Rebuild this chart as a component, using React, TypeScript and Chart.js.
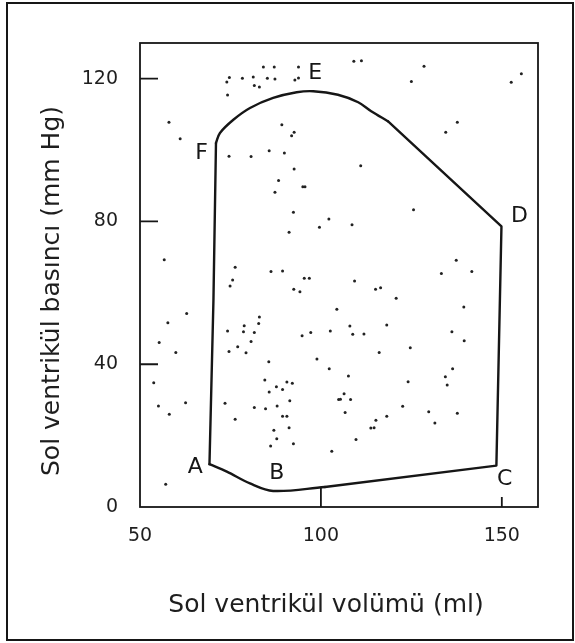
import React, { useEffect, useRef } from "react";
import { Chart, registerables } from "chart.js";

Chart.register(...registerables);

const xTitle = "Sol ventrikül volümü (ml)";
const yTitle = "Sol ventrikül basıncı (mm Hg)";

const xTicks = [50, 100, 150];
const yTicks = [0, 40, 80, 120];
const yInnerTicks = [40, 80, 120];
const xInnerTicks = [150];

// pressure-volume loop A -> B -> C -> D -> E -> F -> A
const loopVolume = [69.2, 74.0, 80.4, 86.8, 101.1, 148.5, 149.9, 118.5, 113.9, 110.3, 104.7, 97.9, 93.3, 86.8, 80.4, 75.8, 72.1, 71.0, 70.3, 69.2];
const loopPressure = [12.0, 9.9, 6.6, 4.5, 5.6, 11.6, 78.6, 108.1, 110.9, 113.4, 115.5, 116.5, 116.2, 114.6, 111.8, 108.5, 104.8, 102.0, 58.0, 12.0];
// which stretches of the loop are curved (start index, end index, tension)
const loopPieces: [number, number, number][] = [
  [0, 4, 0.35],
  [4, 7, 0],
  [7, 17, 0.35],
  [17, 19, 0],
];

// small marker line at 100 ml
const markerVolume = [100, 100];
const markerPressure = [0, 5.6];

const letters = ["A", "B", "C", "D", "E", "F"];
const letterVolume = [65.3, 87.8, 150.8, 154.9, 98.4, 67.0];
const letterPressure = [11.0, 9.4, 7.8, 81.4, 121.6, 99.2];

// scattered specks
const dotVolume = [
  84.1, 87.1, 93.8, 74.7, 78.3, 81.3, 85.2, 87.3, 74.0, 81.6, 83.0, 92.8, 93.8, 74.2, 58.0, 61.1, 89.2, 92.6, 91.9, 85.7,
  89.9, 74.6, 80.7, 92.6, 88.3, 87.3, 95.0, 95.6, 92.4, 102.2, 99.6, 91.2, 56.7, 76.3, 86.2, 89.4,
  109.1, 111.2, 128.5, 155.4, 125.0, 152.6, 137.7, 134.5, 111.0, 125.6, 108.6, 137.4, 133.3, 141.7,
  75.6, 74.9, 95.4, 96.8, 92.5, 94.2, 104.4, 62.9, 57.7, 83.0, 82.8, 78.8, 74.2, 78.6, 81.6, 94.8, 97.2, 102.6, 55.3, 59.9,
  77.0, 80.7, 74.6, 79.3, 85.6, 98.9, 102.3, 53.8, 84.5, 90.6, 92.1, 87.7, 85.7, 89.4, 104.9, 62.6, 55.1, 73.5, 58.1, 81.6,
  84.7, 87.9, 91.4, 76.3, 89.4, 90.6, 87.0, 91.2, 87.8, 86.1, 92.4, 103.0, 57.1,
  109.3, 115.1, 116.5, 120.8, 139.5, 108.0, 108.8, 111.9, 118.2, 136.2, 139.6, 116.1, 124.7, 107.6, 136.4, 134.4, 134.9, 124.1,
  106.4, 105.4, 108.2, 106.7, 122.6, 129.8, 137.7, 115.2, 118.2, 131.5, 114.7, 113.8, 109.7,
];
const dotPressure = [
  123.3, 123.3, 123.3, 120.3, 120.1, 120.5, 120.1, 119.9, 119.1, 118.1, 117.7, 119.6, 120.2, 115.4, 107.8, 103.2, 107.1, 105.0, 104.0, 99.8,
  99.2, 98.3, 98.2, 94.7, 91.5, 88.2, 89.7, 89.7, 82.6, 80.7, 78.4, 77.0, 69.3, 67.2, 66.0, 66.1,
  124.9, 125.0, 123.5, 121.4, 119.2, 119.0, 107.8, 105.0, 95.6, 83.3, 79.1, 69.1, 65.4, 66.0,
  63.6, 61.9, 64.1, 64.1, 61.0, 60.3, 55.4, 54.2, 51.6, 53.2, 51.4, 50.8, 49.3, 49.1, 48.9, 48.0, 48.9, 49.3, 46.1, 43.3,
  44.9, 46.4, 43.6, 43.2, 40.7, 41.5, 38.7, 34.8, 35.6, 35.0, 34.7, 33.7, 32.2, 32.9, 30.1, 29.2, 28.3, 29.1, 26.0, 27.9,
  27.5, 28.3, 29.8, 24.6, 25.4, 25.4, 21.5, 22.2, 19.1, 17.1, 17.7, 15.6, 6.4,
  63.3, 61.0, 61.4, 58.5, 56.0, 50.7, 48.4, 48.5, 51.0, 49.1, 46.6, 43.3, 44.6, 36.7, 38.7, 36.5, 34.2, 35.1,
  31.7, 30.2, 30.1, 26.5, 28.2, 26.7, 26.3, 24.3, 25.4, 23.5, 22.2, 22.1, 18.9,
];

const INK = "#161616";
const FONT = '"DejaVu Sans", "Open Sans", sans-serif';

const decor = {
  id: "decor",
  afterDraw(chart: any) {
    const { ctx, chartArea: a } = chart;
    const x = chart.scales.x;
    const y = chart.scales.y;
    ctx.save();
    ctx.strokeStyle = INK;
    ctx.lineWidth = 1.8;
    ctx.strokeRect(a.left, a.top, a.right - a.left, a.bottom - a.top);
    ctx.beginPath();
    yInnerTicks.forEach((v) => {
      const py = y.getPixelForValue(v);
      ctx.moveTo(a.left, py);
      ctx.lineTo(a.left + 18, py);
    });
    xInnerTicks.forEach((v) => {
      const px = x.getPixelForValue(v);
      ctx.moveTo(px, a.bottom);
      ctx.lineTo(px, a.bottom - 10);
    });
    ctx.stroke();

    ctx.fillStyle = INK;
    ctx.textAlign = "center";
    ctx.textBaseline = "middle";
    ctx.font = `22px ${FONT}`;
    letters.forEach((t, i) => {
      ctx.fillText(t, x.getPixelForValue(letterVolume[i]), y.getPixelForValue(letterPressure[i]));
    });

    ctx.font = `25px ${FONT}`;
    ctx.fillStyle = "#1e1e1e";
    ctx.fillText(xTitle, (a.left + a.right) / 2 - 13, 605);
    ctx.save();
    ctx.translate(52, (a.top + a.bottom) / 2 + 16);
    ctx.rotate(-Math.PI / 2);
    ctx.fillText(yTitle, 0, 0);
    ctx.restore();

    ctx.lineWidth = 2;
    ctx.strokeStyle = INK;
    ctx.strokeRect(7, 3, 566, 637);
    ctx.restore();
  },
};

export default function App() {
  const ref = useRef<HTMLCanvasElement | null>(null);

  useEffect(() => {
    document.body.style.margin = "0";
    const canvas = ref.current;
    if (!canvas) return;
    const loopSets = loopPieces.map(([s, e, t], k) => ({
      label: "loop" + k,
      data: loopVolume.slice(s, e + 1).map((v, i) => ({ x: v, y: loopPressure[s + i] })),
      showLine: true,
      borderColor: INK,
      borderWidth: 2.4,
      borderCapStyle: "round" as const,
      borderJoinStyle: "round" as const,
      pointRadius: 0,
      tension: t,
      fill: false,
    }));
    const chart = new Chart(canvas, {
      type: "scatter",
      data: {
        datasets: [
          {
            label: "dots",
            data: dotVolume.map((v, i) => ({ x: v, y: dotPressure[i] })),
            showLine: false,
            pointRadius: 1.5,
            pointBackgroundColor: "#222",
            pointBorderWidth: 0,
          },
          ...loopSets,
          {
            label: "marker",
            data: markerVolume.map((v, i) => ({ x: v, y: markerPressure[i] })),
            showLine: true,
            borderColor: INK,
            borderWidth: 1.8,
            pointRadius: 0,
          },
        ],
      },
      options: {
        responsive: false,
        animation: false,
        layout: { padding: { top: 43, right: 37, left: 0, bottom: 0 } },
        plugins: { legend: { display: false }, tooltip: { enabled: false } },
        scales: {
          x: {
            type: "linear",
            min: 50,
            max: 160,
            grid: { display: false, drawTicks: false },
            border: { display: false },
            afterBuildTicks: (s: any) => {
              s.ticks = xTicks.map((v) => ({ value: v }));
            },
            afterFit: (s: any) => {
              s.height = 136;
            },
            ticks: {
              padding: 18,
              maxRotation: 0,
              autoSkip: false,
              color: "#1e1e1e",
              font: { family: FONT, size: 19 },
            },
          },
          y: {
            type: "linear",
            min: 0,
            max: 130,
            grid: { display: false, drawTicks: false },
            border: { display: false },
            afterBuildTicks: (s: any) => {
              s.ticks = yTicks.map((v) => ({ value: v }));
            },
            afterFit: (s: any) => {
              s.width = 140;
            },
            ticks: {
              padding: 22,
              autoSkip: false,
              color: "#1e1e1e",
              font: { family: FONT, size: 19 },
            },
          },
        },
      },
      plugins: [decor],
    });
    return () => chart.destroy();
  }, []);

  return (
    <div style={{ width: 575, height: 643, background: "#fff" }}>
      <canvas ref={ref} width={575} height={643} />
    </div>
  );
}
